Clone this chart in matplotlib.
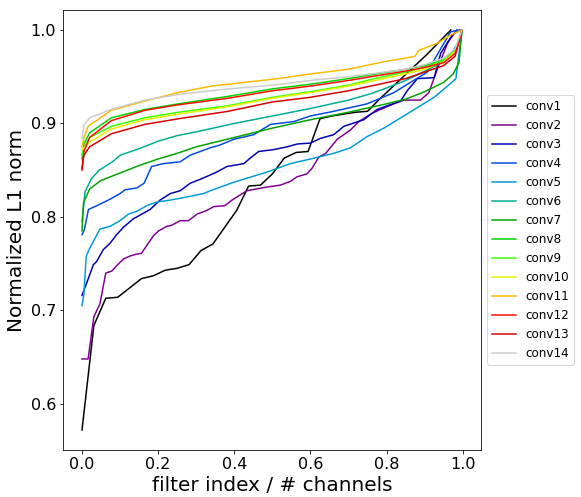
import numpy as np
import matplotlib
matplotlib.use("Agg")
import matplotlib.pyplot as plt

# sorted, normalized L1 norms per conv layer
# x = filter index / # channels, y = normalized L1 norm
conv1_x = [i / 32 for i in range(32)]
conv1_y = [0.572, 0.684, 0.713, 0.714, 0.724, 0.734, 0.737, 0.743, 0.745, 0.749,
           0.764, 0.771, 0.789, 0.807, 0.833, 0.834, 0.846, 0.863, 0.869, 0.870,
           0.905, 0.908, 0.910, 0.912, 0.913, 0.926, 0.938, 0.950, 0.962, 0.974,
           0.987, 1.000]

conv2_x = [0.0, 0.016, 0.031, 0.047, 0.0625, 0.078, 0.094, 0.109, 0.125, 0.141,
           0.156, 0.188, 0.201, 0.223, 0.235, 0.258, 0.28, 0.302, 0.328, 0.346,
           0.375, 0.394, 0.433, 0.486, 0.521, 0.547, 0.565, 0.591, 0.604, 0.622,
           0.64, 0.67, 0.705, 0.727, 0.758, 0.784, 0.819, 0.846, 0.889, 0.911,
           0.933, 0.96, 0.984]
conv2_y = [0.648, 0.648, 0.693, 0.707, 0.740, 0.742, 0.749, 0.755, 0.758, 0.760,
           0.761, 0.780, 0.785, 0.790, 0.791, 0.796, 0.796, 0.803, 0.807, 0.811,
           0.812, 0.818, 0.828, 0.832, 0.834, 0.838, 0.843, 0.846, 0.852, 0.864,
           0.868, 0.883, 0.893, 0.902, 0.910, 0.915, 0.921, 0.925, 0.925, 0.933,
           0.958, 0.986, 1.000]

conv3_x = [0.0, 0.012, 0.03, 0.038, 0.056, 0.074, 0.091, 0.109, 0.135, 0.157,
           0.179, 0.205, 0.232, 0.258, 0.284, 0.315, 0.354, 0.381, 0.425, 0.442,
           0.464, 0.503, 0.539, 0.565, 0.6, 0.626, 0.661, 0.688, 0.74, 0.775,
           0.837, 0.854, 0.881, 0.925, 0.942, 0.973, 0.992]
conv3_y = [0.716, 0.729, 0.749, 0.752, 0.765, 0.772, 0.781, 0.789, 0.798, 0.803,
           0.808, 0.818, 0.825, 0.828, 0.836, 0.841, 0.848, 0.854, 0.857, 0.863,
           0.870, 0.872, 0.875, 0.878, 0.879, 0.884, 0.888, 0.897, 0.904, 0.915,
           0.924, 0.935, 0.948, 0.949, 0.975, 0.995, 1.000]

conv4_x = [0.0, 0.006, 0.017, 0.039, 0.074, 0.1, 0.113, 0.144, 0.163, 0.183,
           0.214, 0.258, 0.284, 0.337, 0.363, 0.398, 0.451, 0.495, 0.556, 0.6,
           0.661, 0.749, 0.819, 0.863, 0.907, 0.942, 0.968, 0.992]
conv4_y = [0.781, 0.786, 0.808, 0.812, 0.819, 0.825, 0.829, 0.831, 0.836, 0.854,
           0.857, 0.859, 0.866, 0.874, 0.877, 0.883, 0.888, 0.899, 0.902, 0.908,
           0.913, 0.921, 0.933, 0.944, 0.955, 0.980, 0.998, 1.000]

conv5_x = [0.0, 0.005, 0.011, 0.021, 0.047, 0.074, 0.1, 0.122, 0.144, 0.17,
           0.197, 0.232, 0.258, 0.284, 0.319, 0.337, 0.398, 0.486, 0.547, 0.6,
           0.661, 0.705, 0.749, 0.793, 0.837, 0.881, 0.925, 0.96, 0.982, 0.991,
           0.998]
conv5_y = [0.705, 0.718, 0.758, 0.767, 0.787, 0.790, 0.796, 0.803, 0.806, 0.812,
           0.816, 0.818, 0.820, 0.822, 0.825, 0.828, 0.837, 0.848, 0.857, 0.862,
           0.868, 0.874, 0.886, 0.895, 0.906, 0.917, 0.928, 0.940, 0.948, 0.978,
           1.000]

conv6_x = [0.0, 0.008, 0.025, 0.045, 0.08, 0.1, 0.15, 0.2, 0.25, 0.3, 0.4, 0.5,
           0.6, 0.7, 0.76, 0.8, 0.85, 0.9, 0.94, 0.97, 0.99, 0.998]
conv6_y = [0.795, 0.827, 0.841, 0.850, 0.859, 0.866, 0.873, 0.881, 0.887, 0.891,
           0.900, 0.908, 0.916, 0.925, 0.932, 0.938, 0.946, 0.956, 0.964, 0.975,
           0.988, 1.000]

conv7_x = [0.0, 0.004, 0.02, 0.05, 0.1, 0.15, 0.2, 0.25, 0.3, 0.4, 0.5, 0.6, 0.7,
           0.8, 0.85, 0.9, 0.95, 0.975, 0.99, 0.998]
conv7_y = [0.785, 0.815, 0.830, 0.839, 0.847, 0.855, 0.862, 0.868, 0.875, 0.885,
           0.895, 0.904, 0.912, 0.921, 0.926, 0.934, 0.944, 0.953, 0.965, 1.000]

top_x = [0.0, 0.005, 0.02, 0.077, 0.165, 0.253, 0.384, 0.5, 0.6, 0.7, 0.758,
         0.85, 0.9, 0.95, 0.98, 0.998]
conv8_y = [0.862, 0.878, 0.890, 0.906, 0.915, 0.921, 0.929, 0.937, 0.942, 0.948,
           0.952, 0.958, 0.962, 0.968, 0.978, 1.000]
conv9_y = [0.866, 0.874, 0.885, 0.897, 0.906, 0.912, 0.919, 0.928, 0.934, 0.941,
           0.947, 0.955, 0.960, 0.968, 0.978, 1.000]
conv10_y = [0.872, 0.874, 0.880, 0.894, 0.904, 0.910, 0.918, 0.927, 0.933, 0.940,
            0.945, 0.953, 0.958, 0.966, 0.977, 1.000]
conv12_y = [0.850, 0.870, 0.885, 0.903, 0.914, 0.920, 0.927, 0.935, 0.940, 0.946,
            0.950, 0.956, 0.960, 0.965, 0.975, 1.000]
conv13_y = [0.852, 0.866, 0.875, 0.889, 0.899, 0.905, 0.913, 0.923, 0.928, 0.935,
            0.940, 0.948, 0.955, 0.962, 0.972, 1.000]
conv14_y = [0.884, 0.898, 0.906, 0.915, 0.925, 0.931, 0.937, 0.941, 0.946, 0.950,
            0.953, 0.958, 0.963, 0.970, 0.980, 1.000]

conv11_x = [0.0, 0.005, 0.016, 0.077, 0.165, 0.253, 0.34, 0.428, 0.516, 0.6, 0.7,
            0.792, 0.85, 0.875, 0.884, 0.934, 0.97, 0.998]
conv11_y = [0.875, 0.885, 0.897, 0.914, 0.924, 0.933, 0.940, 0.944, 0.948, 0.953,
            0.958, 0.966, 0.970, 0.972, 0.978, 0.986, 0.995, 1.000]

series = [
    ("conv1", conv1_x, conv1_y),
    ("conv2", conv2_x, conv2_y),
    ("conv3", conv3_x, conv3_y),
    ("conv4", conv4_x, conv4_y),
    ("conv5", conv5_x, conv5_y),
    ("conv6", conv6_x, conv6_y),
    ("conv7", conv7_x, conv7_y),
    ("conv8", top_x, conv8_y),
    ("conv9", top_x, conv9_y),
    ("conv10", top_x, conv10_y),
    ("conv11", conv11_x, conv11_y),
    ("conv12", top_x, conv12_y),
    ("conv13", top_x, conv13_y),
    ("conv14", top_x, conv14_y),
]

colours = plt.cm.nipy_spectral(np.linspace(0, 1, len(series)))

fig = plt.figure(figsize=(581 / 72, 497 / 72), dpi=72)
ax = fig.add_axes([63 / 581, 47 / 497, 418 / 581, 440 / 497])

for (name, xs, ys), c in zip(series, colours):
    ax.plot(xs, ys, color=c, lw=1.5, label=name)

ax.set_xlabel("filter index / # channels", fontsize=20)
ax.set_ylabel("Normalized L1 norm", fontsize=20)
ax.tick_params(labelsize=16)
ax.set_xticks([0.0, 0.2, 0.4, 0.6, 0.8, 1.0])
ax.set_yticks([0.6, 0.7, 0.8, 0.9, 1.0])
ax.legend(loc="center left", bbox_to_anchor=(1, 0.5), fontsize=12)

fig.savefig("out.png", dpi=72)
